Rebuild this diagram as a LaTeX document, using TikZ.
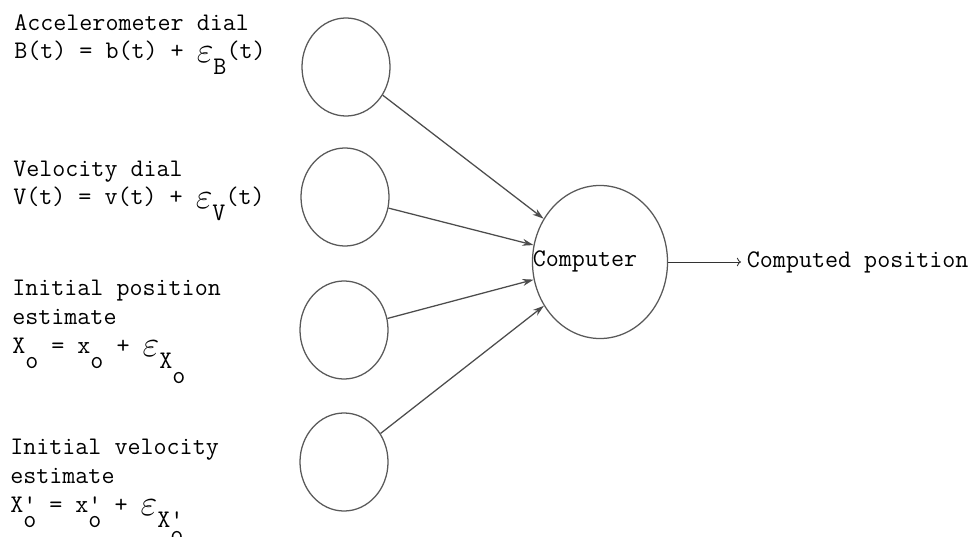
\documentclass[tikz,border=0pt]{standalone}
\usepackage{fontspec}
\usetikzlibrary{arrows.meta,shapes.geometric}
\newcommand{\lo}[1]{\raisebox{-.6em}{#1}}
\newcommand{\eps}[1]{\raisebox{-.15em}{\scalebox{1.5}{$\varepsilon$}}\lo{#1}}
\begin{document}
\begin{tikzpicture}[x=0.025cm,y=-0.025cm,
    dial/.style={draw=black!65, line width=0.9pt, ellipse, minimum width=2.2cm, minimum height=2.45cm},
    proc/.style={draw=black!65, line width=0.9pt, ellipse, minimum width=3.375cm, minimum height=3.825cm},
    tw/.style={font=\ttfamily\fontsize{18}{20.4}\selectfont},
    lbl/.style={tw, align=left, anchor=base west, inner sep=0pt},
    feed/.style={draw=black!70, line width=0.9pt, -{Stealth[length=8pt,width=5pt]}},
    outarr/.style={draw=black!80, line width=0.6pt, ->}]
    \useasboundingbox (0,0) rectangle (978,537);
    % the four dials
    \node[dial] (acc) at (346,67) {};
    \node[dial] (vel) at (345,197) {};
    \node[dial] (pos) at (344,330) {};
    \node[dial] (ivel) at (344,462) {};
    % computer
    \node[proc] (comp) at (600,262) {};
    \node[tw] (cname) at (585,261) {Computer};
    \node[tw, anchor=west, inner sep=4pt] (res) at (741,262) {Computed position};
    % labels (base = last line)
    \node[lbl] (acclbl) at (14,59) {Accelerometer dial\\B(t) = b(t) + \eps{B}(t)};
    \node[lbl] (vellbl) at (13,205) {Velocity dial\\V(t) = v(t) + \eps{V}(t)};
    \node[lbl] (poslbl) at (12,353) {Initial position\\estimate\\X\lo{o} = x\lo{o} + \eps{X\lo{o}}};
    \node[lbl] (ivellbl) at (10,512) {Initial velocity\\estimate\\X\rlap{'}\lo{o} = x\rlap{'}\lo{o} + \eps{X\rlap{'}\lo{o}}};
    % connections
    \draw[feed] (acc) -- (comp);
    \draw[feed] (vel) -- (comp);
    \draw[feed] (pos) -- (comp);
    \draw[feed] (ivel) -- (comp);
    \draw[outarr] (comp) -- (res);
\end{tikzpicture}
\end{document}
